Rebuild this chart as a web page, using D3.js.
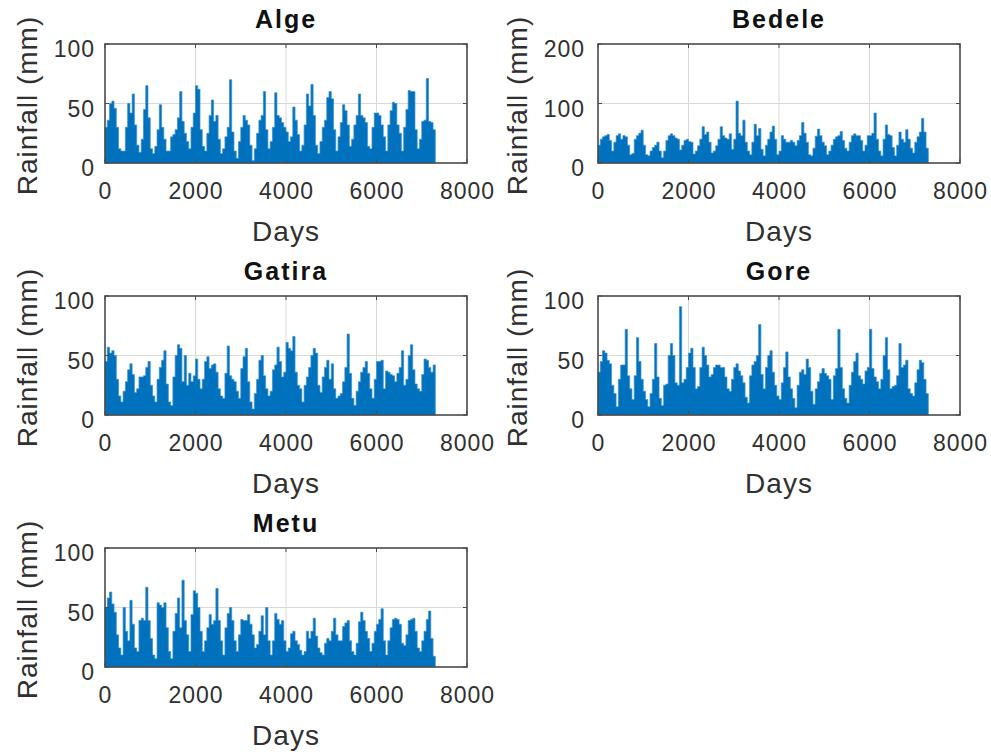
<!DOCTYPE html>
<html>
<head>
<meta charset="utf-8">
<script src="https://cdn.jsdelivr.net/npm/d3@7"></script>
<style>
  html, body { margin: 0; padding: 0; background: #ffffff; }
  svg { display: block; font-family: "Liberation Sans", Arial, Helvetica, sans-serif; }
</style>
</head>
<body>
<svg id="chart" width="991" height="755"></svg>
<script>
// Daily rainfall records, summarised as the highest reading in each 50-day block (mm)
const blockDays = 50;
const recordDays = 7300;

const alge = [30,36,50,52,46,30,12,10,10,30,50,42,58,32,15,9,20,45,65,38,12,8,14,28,49,30,20,10,10,22,
  24,28,38,60,35,25,18,12,30,42,65,62,28,14,10,25,40,53,35,40,20,8,12,22,30,70,26,10,4,18,
  30,40,36,32,15,2,12,25,36,40,60,28,12,18,30,59,40,38,34,30,26,18,22,47,36,24,10,15,32,58,
  48,66,40,15,8,18,30,36,55,60,54,28,10,22,34,49,44,32,14,20,32,40,58,40,38,34,14,12,30,42,
  42,40,32,22,10,32,44,51,50,32,25,10,30,45,61,60,60,28,12,20,35,36,71,35,34,28];

const bedele = [30,40,44,46,48,38,20,35,46,49,40,46,44,30,14,16,40,46,50,55,30,14,12,20,26,30,35,20,9,20,
  38,46,49,46,42,40,22,30,38,40,36,35,15,20,29,40,61,48,52,35,17,20,29,40,61,46,42,40,49,23,
  40,104,50,46,72,35,20,14,35,65,46,58,23,12,30,40,52,62,40,14,20,46,40,35,35,38,35,29,38,46,
  68,50,35,14,12,25,45,57,46,35,29,14,20,30,40,44,46,53,38,25,20,35,46,49,46,46,38,20,30,46,
  46,50,84,40,20,12,40,64,48,46,26,12,30,52,40,35,56,40,25,17,35,44,52,75,52,25];

const gatira = [45,57,52,54,50,30,16,11,20,28,38,43,34,19,22,32,32,33,40,45,25,16,11,30,40,46,54,26,11,8,
  32,50,59,56,28,50,25,35,28,33,47,30,22,30,45,49,39,42,43,36,22,16,14,35,58,33,30,28,20,14,
  39,49,56,28,11,5,18,30,46,50,33,22,16,20,38,42,57,45,32,36,61,56,54,66,36,25,22,11,25,32,
  40,50,56,52,25,19,32,40,46,30,43,22,14,16,18,28,40,68,35,14,8,20,28,36,40,45,35,22,14,30,
  45,45,46,22,37,36,34,33,28,35,40,54,25,30,50,59,38,26,22,20,34,47,46,40,36,42];

const gore = [36,45,54,52,46,43,25,18,7,30,42,42,72,33,22,13,33,65,45,30,20,13,7,18,30,60,32,14,8,25,
  26,50,60,50,27,25,91,27,30,40,52,56,40,22,24,40,57,50,42,32,34,40,42,42,40,40,32,22,20,30,
  40,43,37,33,27,15,10,33,42,45,50,76,34,22,40,50,54,36,25,16,13,27,40,53,32,22,14,6,25,36,
  38,34,47,40,20,9,22,28,35,39,35,33,30,13,33,39,72,40,22,14,10,25,36,45,52,33,30,26,37,40,
  72,39,32,28,22,30,50,65,38,22,24,25,33,60,40,42,46,22,18,16,27,38,46,44,30,18];

const metu = [50,58,63,53,46,27,16,10,50,30,22,56,36,16,13,39,41,39,67,39,24,10,7,54,52,50,54,33,13,7,
  30,45,58,33,73,39,27,13,44,64,62,50,30,13,22,33,44,36,39,66,39,22,10,33,45,50,39,22,13,27,
  40,39,39,44,36,27,16,19,30,43,27,50,22,10,22,45,40,36,39,22,13,16,28,30,22,19,14,10,13,30,
  24,30,41,26,16,12,10,20,24,22,30,41,27,22,22,34,37,39,22,13,10,20,38,46,39,30,24,13,20,30,
  36,40,49,22,10,22,33,40,41,40,36,20,18,27,39,40,41,30,16,13,22,30,40,47,24,9];

const stations = ["Alge", "Bedele", "Gatira", "Gore", "Metu"];
const series = [alge, bedele, gatira, gore, metu];
const yMaxima = [100, 200, 100, 100, 100];
const yTickSets = [[0, 50, 100], [0, 100, 200], [0, 50, 100], [0, 50, 100], [0, 50, 100]];
const xTickValues = [0, 2000, 4000, 6000, 8000];
const xLabel = "Days";
const yLabel = "Rainfall (mm)";

// Subplot grid: three rows, two columns
const columns = [
  { x0: 105, x1: 467, yLabelX: 27, tickRight: 95 },
  { x0: 598, x1: 960, yLabelX: 517, tickRight: 585 }
];
const rowTops = [44, 296, 548];
const axisHeight = 119;
const lineColor = "#0072BD";
const edgeColor = "#3a8fd2";
const axisColor = "#4a4a4a";
const gridColor = "#d9d9d9";
const textColor = "#303030";

const svg = d3.select("#chart");

series.forEach((values, k) => {
  const col = columns[k % 2];
  const top = rowTops[Math.floor(k / 2)];
  const bottom = top + axisHeight;

  const x = d3.scaleLinear().domain([0, 8000]).range([col.x0, col.x1]);
  const y = d3.scaleLinear().domain([0, yMaxima[k]]).range([bottom, top]);

  const g = svg.append("g").attr("class", "panel");

  // grid
  g.selectAll("line.vgrid").data(xTickValues.slice(1, -1)).join("line")
    .attr("x1", d => x(d)).attr("x2", d => x(d))
    .attr("y1", top).attr("y2", bottom)
    .attr("stroke", gridColor).attr("stroke-width", 1);
  g.selectAll("line.hgrid").data(yTickSets[k].slice(1, -1)).join("line")
    .attr("x1", col.x0).attr("x2", col.x1)
    .attr("y1", d => y(d)).attr("y2", d => y(d))
    .attr("stroke", gridColor).attr("stroke-width", 1);

  // rainfall trace: one step per 50-day block, filled down to the zero line
  const pts = values.map((v, i) => [i * blockDays, v]).concat([[recordDays, values[values.length - 1]]]);
  const area = d3.area()
    .curve(d3.curveStepAfter)
    .x(d => x(d[0]))
    .y0(y(0))
    .y1(d => y(d[1]));
  g.append("path")
    .datum(pts)
    .attr("d", area)
    .attr("fill", lineColor)
    .attr("stroke", edgeColor)
    .attr("stroke-width", 0.7);

  // axes with inward ticks on every side
  const tick = 4;
  const xb = d3.axisBottom(x).tickValues(xTickValues).tickSize(0).tickFormat(d3.format("d"));
  const yl = d3.axisLeft(y).tickValues(yTickSets[k]).tickSize(0).tickFormat(d3.format("d"));

  const gx = g.append("g").attr("transform", `translate(0,${bottom})`).call(xb);
  gx.select(".domain").remove();
  gx.selectAll("text")
    .attr("y", 36).attr("dy", null)
    .attr("font-size", 23).attr("letter-spacing", 1)
    .attr("fill", textColor).attr("font-family", "Liberation Sans, Arial, sans-serif");

  const gy = g.append("g").attr("transform", `translate(${col.tickRight},0)`).call(yl);
  gy.select(".domain").remove();
  gy.selectAll("text")
    .attr("x", 0).attr("dy", 12.5)
    .attr("font-size", 23).attr("letter-spacing", 1)
    .attr("fill", textColor).attr("font-family", "Liberation Sans, Arial, sans-serif");

  g.selectAll("line.tb").data(xTickValues).join("line")
    .attr("x1", d => x(d)).attr("x2", d => x(d))
    .attr("y1", bottom).attr("y2", bottom - tick)
    .attr("stroke", axisColor);
  g.selectAll("line.tt").data(xTickValues).join("line")
    .attr("x1", d => x(d)).attr("x2", d => x(d))
    .attr("y1", top).attr("y2", top + tick)
    .attr("stroke", axisColor);
  g.selectAll("line.tl").data(yTickSets[k]).join("line")
    .attr("x1", col.x0).attr("x2", col.x0 + tick)
    .attr("y1", d => y(d)).attr("y2", d => y(d))
    .attr("stroke", axisColor);
  g.selectAll("line.tr").data(yTickSets[k]).join("line")
    .attr("x1", col.x1).attr("x2", col.x1 - tick)
    .attr("y1", d => y(d)).attr("y2", d => y(d))
    .attr("stroke", axisColor);

  // axes box
  g.append("rect")
    .attr("x", col.x0).attr("y", top)
    .attr("width", col.x1 - col.x0).attr("height", axisHeight)
    .attr("fill", "none").attr("stroke", axisColor).attr("stroke-width", 1.6);

  // title and axis labels
  g.append("text")
    .attr("x", (col.x0 + col.x1) / 2).attr("y", top - 16)
    .attr("text-anchor", "middle")
    .attr("font-size", 25).attr("font-weight", "bold").attr("letter-spacing", 2)
    .attr("fill", "#111")
    .text(stations[k]);

  g.append("text")
    .attr("x", (col.x0 + col.x1) / 2).attr("y", bottom + 78)
    .attr("text-anchor", "middle")
    .attr("font-size", 28).attr("letter-spacing", 1)
    .attr("fill", textColor)
    .text(xLabel);

  g.append("text")
    .attr("transform", `translate(${col.yLabelX + 10},${(top + bottom) / 2 + 2}) rotate(-90)`)
    .attr("text-anchor", "middle")
    .attr("font-size", 28).attr("letter-spacing", 1)
    .attr("fill", textColor)
    .text(yLabel);
});
</script>
</body>
</html>
